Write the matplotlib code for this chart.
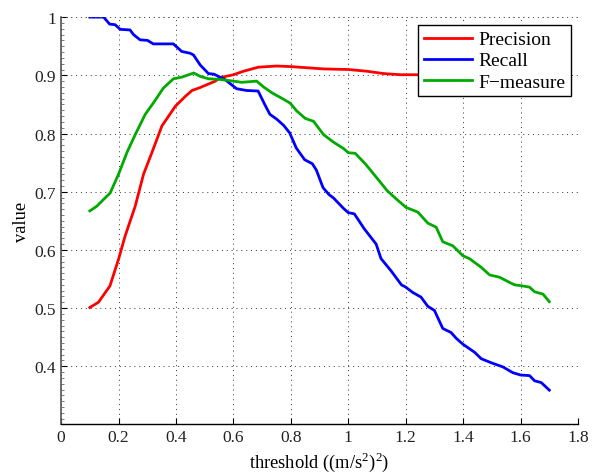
import numpy as np
import matplotlib
matplotlib.use("Agg")
import matplotlib.pyplot as plt

plt.rcParams['font.family'] = ['Liberation Serif', 'DejaVu Serif']
plt.rcParams['mathtext.fontset'] = 'custom'
plt.rcParams['mathtext.rm'] = 'Liberation Serif'

# values
prec_x = [0.10, 0.13, 0.17, 0.20, 0.223, 0.258, 0.287, 0.316, 0.351, 0.398, 0.433, 0.456,
          0.484, 0.537, 0.553, 0.60, 0.635, 0.687, 0.751, 0.80, 0.856, 0.914, 1.00, 1.065,
          1.123, 1.181, 1.233, 1.30, 1.40, 1.50, 1.60, 1.70]
prec_y = [0.501, 0.510, 0.538, 0.584, 0.624, 0.675, 0.730, 0.767, 0.813, 0.847, 0.864, 0.874,
          0.879, 0.890, 0.896, 0.901, 0.907, 0.914, 0.916, 0.915, 0.913, 0.911, 0.910, 0.907,
          0.903, 0.901, 0.901, 0.900, 0.899, 0.898, 0.897, 0.896]

rec_x = [0.10, 0.148, 0.169, 0.188, 0.206, 0.240, 0.252, 0.275, 0.301, 0.321, 0.391, 0.420,
         0.449, 0.461, 0.484, 0.513, 0.532, 0.570, 0.611, 0.645, 0.686, 0.709, 0.727, 0.750,
         0.775, 0.796, 0.819, 0.848, 0.875, 0.889, 0.912, 0.933, 0.949, 0.984, 1.00, 1.021,
         1.056, 1.097, 1.114, 1.149, 1.185, 1.20, 1.224, 1.253, 1.277, 1.30, 1.329, 1.358,
         1.376, 1.399, 1.44, 1.463, 1.498, 1.538, 1.573, 1.60, 1.631, 1.649, 1.672, 1.70]
rec_y = [1.000, 1.000, 0.988, 0.987, 0.979, 0.978, 0.970, 0.961, 0.960, 0.954, 0.954, 0.941,
         0.938, 0.935, 0.918, 0.903, 0.902, 0.893, 0.877, 0.874, 0.873, 0.850, 0.833, 0.825,
         0.814, 0.801, 0.775, 0.755, 0.748, 0.737, 0.707, 0.695, 0.689, 0.671, 0.664, 0.662,
         0.636, 0.610, 0.585, 0.564, 0.540, 0.536, 0.527, 0.519, 0.503, 0.496, 0.465, 0.458,
         0.448, 0.438, 0.424, 0.413, 0.406, 0.399, 0.389, 0.385, 0.384, 0.375, 0.372, 0.359]

f_x = [0.10, 0.124, 0.171, 0.20, 0.229, 0.258, 0.293, 0.322, 0.356, 0.391, 0.421, 0.462,
       0.485, 0.514, 0.553, 0.60, 0.629, 0.681, 0.705, 0.734, 0.774, 0.798, 0.820, 0.850,
       0.879, 0.914, 0.949, 0.984, 1.00, 1.024, 1.059, 1.094, 1.135, 1.166, 1.201, 1.242,
       1.277, 1.306, 1.329, 1.364, 1.399, 1.422, 1.463, 1.492, 1.527, 1.562, 1.579, 1.608,
       1.631, 1.649, 1.678, 1.70]
f_y = [0.667, 0.675, 0.698, 0.730, 0.767, 0.798, 0.833, 0.853, 0.878, 0.894, 0.897, 0.904,
       0.898, 0.894, 0.893, 0.890, 0.888, 0.890, 0.880, 0.870, 0.859, 0.852, 0.839, 0.826,
       0.821, 0.798, 0.785, 0.774, 0.767, 0.766, 0.748, 0.727, 0.702, 0.688, 0.673, 0.665,
       0.646, 0.639, 0.614, 0.607, 0.590, 0.585, 0.570, 0.557, 0.553, 0.544, 0.540, 0.538,
       0.536, 0.528, 0.524, 0.511]

labels = ['Precision', 'Recall', 'F\u2212measure']
colors = ['#ff0000', '#0000ff', '#00aa00']

fig = plt.figure(figsize=(5.99, 4.77), dpi=100)
ax = fig.add_axes([0.102, 0.108, 0.863, 0.854])

ax.plot(prec_x, prec_y, color=colors[0], lw=2, label=labels[0])
ax.plot(rec_x, rec_y, color=colors[1], lw=2, label=labels[1])
ax.plot(f_x, f_y, color=colors[2], lw=2, label=labels[2])

ax.set_xlim(0, 1.8)
ax.set_ylim(0.3, 1.0)
ax.set_xticks(np.arange(0, 1.81, 0.2))
ax.set_xticklabels(['0', '0.2', '0.4', '0.6', '0.8', '1', '1.2', '1.4', '1.6', '1.8'])
ax.set_yticks([0.4, 0.5, 0.6, 0.7, 0.8, 0.9, 1.0])
ax.set_yticklabels(['0.4', '0.5', '0.6', '0.7', '0.8', '0.9', '1'])
ax.set_yticks(np.arange(0.3, 1.0, 0.01), minor=True)
ax.tick_params(axis='both', direction='in', labelsize=12.5, length=4, width=0.8,
               labelcolor='#222222')
ax.tick_params(axis='y', which='minor', direction='in', length=2.5, width=0.6, color='#666666')
ax.tick_params(axis='x', which='minor', bottom=False)

ax.grid(True, linestyle=(0, (1, 4)), color='#333333', lw=0.7)
for side in ['top', 'right']:
    ax.spines[side].set_visible(False)
ax.axhline(1.0, linestyle=(0, (1, 4)), color='#555555', lw=0.7)
ax.axvline(1.8, linestyle=(0, (1, 4)), color='#777777', lw=0.7)
ax.spines['left'].set_color('#555555')
ax.spines['left'].set_linewidth(1.2)
ax.spines['bottom'].set_linewidth(1.0)

ax.set_xlabel('threshold ((m/s$^2$)$^2$)', fontsize=13.3, labelpad=3)
ax.set_ylabel('value', fontsize=13.3, labelpad=3)

leg = ax.legend(loc='upper right', bbox_to_anchor=(0.986, 0.981), fontsize=14,
                frameon=True, fancybox=False, framealpha=1, edgecolor='black',
                handlelength=2.5, handletextpad=0.3, borderpad=0.3, labelspacing=0.18,
                borderaxespad=0)
leg.get_frame().set_linewidth(1.0)

fig.savefig('out.png', dpi=100)
